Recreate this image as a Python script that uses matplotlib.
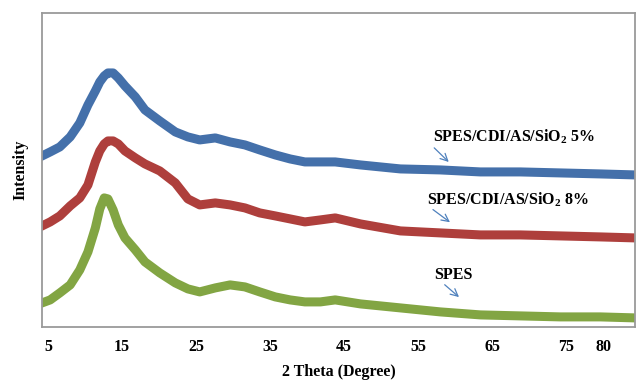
import matplotlib
matplotlib.use('Agg')
import matplotlib.pyplot as plt

plt.rcParams['font.family'] = 'Liberation Serif'
plt.rcParams['font.weight'] = 'bold'
plt.rcParams['mathtext.fontset'] = 'custom'
plt.rcParams['mathtext.rm'] = 'Liberation Serif:bold'
plt.rcParams['mathtext.bf'] = 'Liberation Serif:bold'

# 2 theta positions (degree)
two_theta = [4.2, 5.3, 6.6, 8.0, 9.3, 10.4, 11.4, 12.0, 12.6, 13.1, 13.8, 14.5,
             15.4, 16.8, 18.1, 20.1, 22.2, 23.9, 25.5, 27.6, 29.6, 31.6, 33.6,
             35.7, 37.7, 39.7, 41.8, 43.8, 47.2, 52.6, 58.0, 63.4, 68.8, 74.2,
             79.6, 84.3]

# intensities (arb. units, curves are offset as in the figure)
sio2_5 = [171, 175, 180, 190, 204, 222, 236, 245, 251, 254, 254, 249,
          241, 230, 217, 206, 195, 190, 187, 189, 185, 182, 177,
          172, 168, 165, 165, 165, 162, 158, 157, 155, 155, 154,
          153, 152]
sio2_8 = [101, 105, 111, 121, 129, 142, 165, 176, 183, 186, 186, 183,
          176, 169, 163, 156, 144, 128, 122, 124, 122, 119, 114,
          111, 108, 105, 107, 109, 103, 96, 94, 92, 92, 91,
          90, 89]
spes = [24, 27, 34, 42, 57, 75, 99, 118, 129, 128, 117, 102,
        89, 77, 65, 54, 44, 38, 35, 39, 42, 40, 35,
        30, 27, 25, 25, 27, 23, 19, 15, 12, 11, 10,
        10, 9]

xticks = [5, 15, 25, 35, 45, 55, 65, 75, 80]

fig = plt.figure(figsize=(6.37, 3.81), dpi=100)
ax = fig.add_axes([0.066, 0.142, 0.931, 0.824])

lw = 6.5
ax.plot(two_theta, sio2_5, color='#4470AA', lw=lw, solid_joinstyle='round')
ax.plot(two_theta, sio2_8, color='#AE3F3C', lw=lw, solid_joinstyle='round')
ax.plot(two_theta, spes, color='#82A543', lw=lw, solid_joinstyle='round')

ax.set_xlim(4.2, 84.3)
ax.set_ylim(0, 314)
ax.set_xticks(xticks)
ax.set_xticklabels([str(t) for t in xticks])
ax.set_yticks([])
ax.tick_params(axis='x', length=0, pad=9, labelsize=11.5)
for s in ax.spines.values():
    s.set_color('#9A9A9A')
    s.set_linewidth(1.3)

ax.set_xlabel('2 Theta (Degree)', fontsize=11.5, fontweight='bold', labelpad=6)
ax.set_ylabel('Intensity', fontsize=11.5, fontweight='bold', labelpad=10)

arrow = dict(arrowstyle='->', color='#4F81BD', lw=0.9, mutation_scale=13)
ax.text(67.9, 190, r'SPES/CDI/AS/SiO$_\mathbf{2}$ 5%', ha='center', va='center',
        fontsize=11.5, fontweight='bold')
ax.annotate('', xy=(59.4, 163), xytext=(56.9, 181), arrowprops=arrow)
ax.text(67.1, 127, r'SPES/CDI/AS/SiO$_\mathbf{2}$ 8%', ha='center', va='center',
        fontsize=11.5, fontweight='bold')
ax.annotate('', xy=(59.6, 103), xytext=(56.7, 119), arrowprops=arrow)
ax.text(59.7, 52, 'SPES', ha='center', va='center', fontsize=11.5, fontweight='bold')
ax.annotate('', xy=(60.8, 28), xytext=(58.3, 44), arrowprops=arrow)

fig.savefig('out.png', dpi=100)
